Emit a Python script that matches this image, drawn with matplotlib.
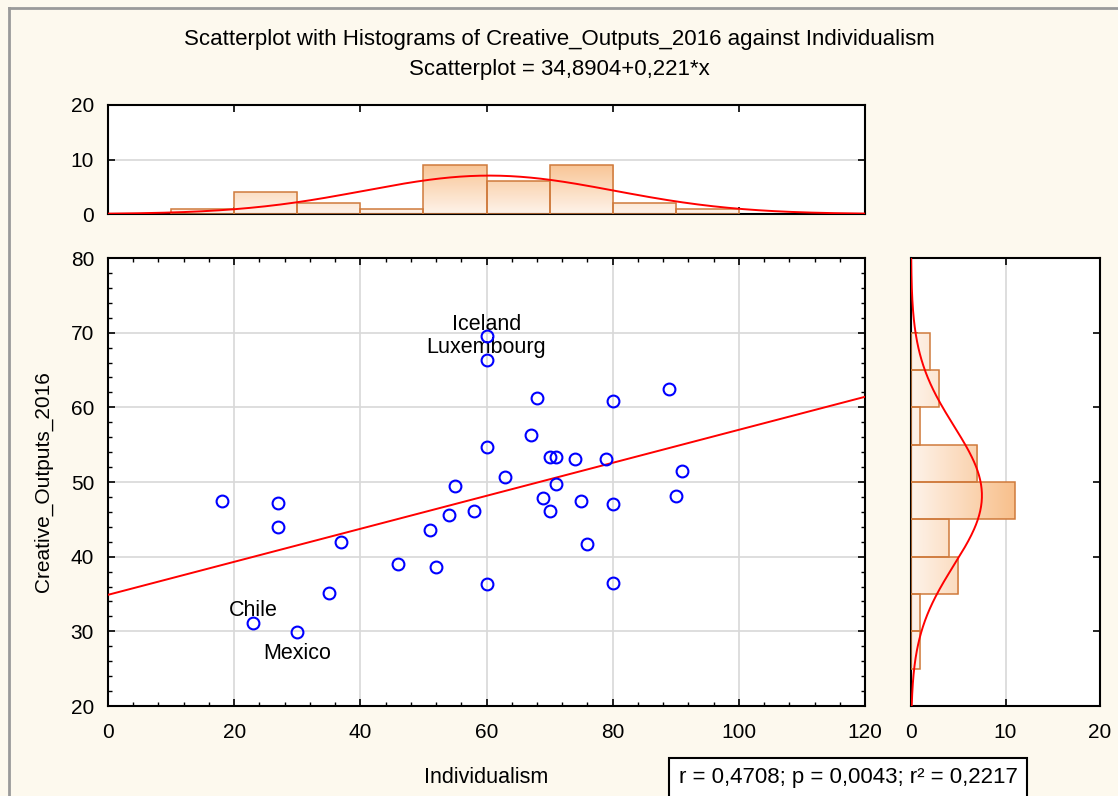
import numpy as np
import matplotlib
matplotlib.use('Agg')
import matplotlib.pyplot as plt
from matplotlib.colors import LinearSegmentedColormap
from matplotlib.patches import Rectangle
from matplotlib.lines import Line2D

plt.rcParams['font.family'] = ['Liberation Sans', 'DejaVu Sans']

# Individualism (x) and Creative_Outputs_2016 (y)
individualism = [18, 27, 27, 37, 23, 30, 35, 46, 52, 51, 54, 58, 55, 60, 60, 60, 60,
                 68, 80, 89, 67, 70, 71, 74, 79, 63, 71, 91, 69, 75, 80, 90, 70, 76, 80]
creative = [47.4, 47.2, 44.0, 42.0, 31.1, 29.9, 35.1, 39.0, 38.6, 43.6, 45.6, 46.1, 49.5,
            36.3, 54.7, 66.3, 69.5,
            61.3, 60.9, 62.5, 56.3, 53.35, 53.35, 53.1, 53.1, 50.7, 49.7, 51.5, 47.9,
            47.5, 47.0, 48.1, 46.1, 41.7, 36.5]
labels = {'Iceland': (60, 69.5), 'Luxembourg': (60, 66.3), 'Chile': (23, 31.1), 'Mexico': (30, 29.9)}
intercept, slope = 34.8904, 0.221
x_edges = np.arange(0, 130, 10)
y_edges = np.arange(20, 85, 5)

x = np.array(individualism)
y = np.array(creative)

bg = '#FDF9EE'
grid_c = '#D8D8D8'
edge_c = '#CF7A3C'
cmap = LinearSegmentedColormap.from_list('bar', ['#FEF3EA', '#F8C08C'])

fig = plt.figure(figsize=(11.18, 7.96), dpi=100, facecolor=bg)
W, H = 1118, 796
def pos(l, t, r, b):
    return [l / W, 1 - b / H, (r - l) / W, (b - t) / H]

ax = fig.add_axes(pos(108, 258, 865, 706))
axt = fig.add_axes(pos(108, 105, 865, 214))
axr = fig.add_axes(pos(911, 258, 1100, 706))

for a in (ax, axt, axr):
    a.set_facecolor('white')
    for s in a.spines.values():
        s.set_linewidth(1.5)
    a.tick_params(direction='in', length=5, width=1.2, labelsize=15,
                  top=True, right=True)
    a.tick_params(axis='x', pad=12)
    a.tick_params(axis='y', pad=10)
    a.tick_params(which='minor', direction='in', length=3, width=1, top=True, right=True)

# scatter panel
ax.set_xlim(0, 120)
ax.set_ylim(20, 80)
ax.set_xticks(np.arange(0, 121, 20))
ax.set_yticks(np.arange(20, 81, 10))
ax.set_xticks(np.arange(0, 121, 4), minor=True)
ax.set_yticks(np.arange(20, 81, 2), minor=True)
ax.grid(True, color=grid_c, linewidth=1.2)
ax.set_axisbelow(True)
xx = np.array([0, 120])
ax.plot(xx, intercept + slope * xx, color='red', linewidth=1.4, zorder=3)
ax.plot(x, y, 'o', mfc='none', mec='blue', ms=8.5, mew=1.5, zorder=4)
ax.text(labels['Iceland'][0], labels['Iceland'][1] + 0.25, 'Iceland', ha='center', va='bottom', fontsize=15.5)
ax.text(labels['Luxembourg'][0], labels['Luxembourg'][1] + 0.25, 'Luxembourg', ha='center', va='bottom', fontsize=15.5)
ax.text(labels['Chile'][0], labels['Chile'][1] + 0.25, 'Chile', ha='center', va='bottom', fontsize=15.5)
ax.text(labels['Mexico'][0], labels['Mexico'][1] - 1.4, 'Mexico', ha='center', va='top', fontsize=15.5)
ax.set_xlabel('Individualism', fontsize=15.5, labelpad=18)
ax.set_ylabel('Creative_Outputs_2016', fontsize=15, labelpad=13)

def grad_bar(a, x0, x1, y0, y1, vmax, horizontal=False):
    if horizontal:
        g = np.linspace(0, x1 / vmax, 64).reshape(1, -1)
    else:
        g = np.linspace(0, y1 / vmax, 64).reshape(-1, 1)
    im = a.imshow(g, cmap=cmap, vmin=0, vmax=1, extent=(x0, x1, y0, y1),
                  origin='lower', aspect='auto', zorder=2, interpolation='bilinear')
    r = Rectangle((x0, y0), x1 - x0, y1 - y0, fill=False, edgecolor=edge_c, linewidth=1.1, zorder=3)
    a.add_patch(r)
    im.set_clip_path(r)

# top histogram (bins closed on the right)
xc = [np.sum((x > lo) & (x <= hi)) for lo, hi in zip(x_edges[:-1], x_edges[1:])]
for lo, hi, c in zip(x_edges[:-1], x_edges[1:], xc):
    if c > 0:
        grad_bar(axt, lo, hi, 0, c, 10)
xs = np.linspace(0, 120, 300)
mx, sx = x.mean(), x.std(ddof=1)
axt.plot(xs, len(x) * 10 * np.exp(-0.5 * ((xs - mx) / sx) ** 2) / (sx * np.sqrt(2 * np.pi)),
         color='red', linewidth=1.4, zorder=4)
axt.set_xlim(0, 120)
axt.set_ylim(0, 20)
axt.set_xticks(np.arange(0, 121, 20))
axt.set_yticks([0, 10, 20])
axt.tick_params(labelbottom=False)
axt.yaxis.grid(True, color=grid_c, linewidth=1.2)
axt.set_axisbelow(True)

# right histogram
yc = [np.sum((y > lo) & (y <= hi)) for lo, hi in zip(y_edges[:-1], y_edges[1:])]
for lo, hi, c in zip(y_edges[:-1], y_edges[1:], yc):
    if c > 0:
        grad_bar(axr, 0, c, lo, hi, 11, horizontal=True)
ys = np.linspace(20, 80, 300)
my, sy = y.mean(), y.std(ddof=1)
axr.plot(len(y) * 5 * np.exp(-0.5 * ((ys - my) / sy) ** 2) / (sy * np.sqrt(2 * np.pi)), ys,
         color='red', linewidth=1.4, zorder=4)
axr.set_xlim(0, 20)
axr.set_ylim(20, 80)
axr.set_xticks([0, 10, 20])
axr.set_yticks(np.arange(20, 81, 10))
axr.tick_params(labelleft=False)
axr.xaxis.grid(True, color=grid_c, linewidth=1.2)
axr.set_axisbelow(True)

fig.text(0.5, 1 - 40 / H, 'Scatterplot with Histograms of Creative_Outputs_2016 against Individualism',
         ha='center', va='center', fontsize=16)
fig.text(0.5, 1 - 69 / H, 'Scatterplot = 34,8904+0,221*x', ha='center', va='center', fontsize=16)
fig.text(848 / W, 1 - 778 / H, 'r = 0,4708; p = 0,0043; r² = 0,2217', ha='center', va='center',
         fontsize=16, bbox=dict(boxstyle='square,pad=0.45', facecolor='white', edgecolor='black', linewidth=1.5))

# grey frame on top and left
fig.add_artist(Line2D([9 / W, 9 / W], [0, 1 - 8 / H], color='#9A9A9A', linewidth=2))
fig.add_artist(Line2D([9 / W, 1], [1 - 8 / H, 1 - 8 / H], color='#9A9A9A', linewidth=2))

fig.savefig('out.png', dpi=100, facecolor=bg)
